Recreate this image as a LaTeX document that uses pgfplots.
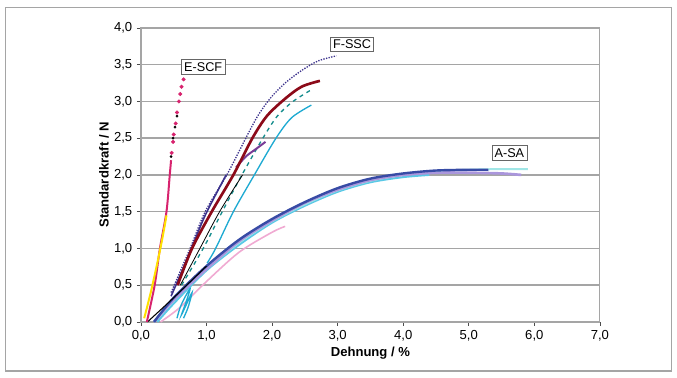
\documentclass[border=0pt]{standalone}
\usepackage{pgfplots}
\pgfplotsset{compat=1.18}
\usepackage{fontspec}
\setmainfont{Liberation Sans}
\definecolor{escf}{RGB}{215,35,110}
\definecolor{yel}{RGB}{255,225,0}
\definecolor{dblue}{RGB}{60,50,140}
\definecolor{dred}{RGB}{140,10,25}
\definecolor{teal2}{RGB}{20,140,140}
\definecolor{cyan2}{RGB}{30,170,210}
\definecolor{purp}{RGB}{120,60,150}
\definecolor{asab}{RGB}{55,75,165}
\definecolor{lcyan}{RGB}{160,230,230}
\definecolor{lav}{RGB}{170,150,220}
\definecolor{lblue}{RGB}{90,200,230}
\definecolor{lpink}{RGB}{240,170,210}
\definecolor{gridg}{RGB}{165,165,165}
\begin{document}
\begin{tikzpicture}
\begin{axis}[
  scale only axis, width=344.25pt, height=220.5pt,
  xmin=0, xmax=7, ymin=0, ymax=4,
  xtick={0,1,...,7}, ytick={0,0.5,...,4},
  /pgf/number format/.cd, fixed, fixed zerofill, precision=1, use comma, assume math mode=true,
  /pgfplots/.cd,
  ymajorgrids, grid style={gridg, line width=1.1pt},
  axis line style={gridg, line width=0.9pt},
  tick style={black!70, line width=0.5pt}, tick align=outside, major tick length=3pt,
  xtick pos=bottom, ytick pos=left,
  ticklabel style={font=\fontsize{9.8}{11}\selectfont},
  xlabel={\textbf{Dehnung / \%}}, ylabel={\textbf{Standardkraft / N}},
  xlabel style={font=\fontsize{9.8}{11}\selectfont, yshift=3pt},
  ylabel style={font=\fontsize{9.8}{11}\selectfont, yshift=-3pt},
  every axis plot/.append style={smooth, tension=0.5},
  clip=false,
]
% outer frame and bounding
\path (rel axis cs:-0.307,-0.190) rectangle (rel axis cs:1.168,1.095);
\draw[gridg, line width=0.8pt] (rel axis cs:-0.296,-0.167) rectangle (rel axis cs:1.157,1.068);
% A-SA group
\addplot[lpink, line width=1.2pt] coordinates {(0.3,0) (0.6,0.2) (1.0,0.55) (1.5,0.95) (2.0,1.22) (2.2,1.3)};
\addplot[lblue, line width=1.5pt] coordinates {(0.25,0) (0.5,0.25) (1.0,0.7) (1.5,1.05) (2.0,1.35) (2.5,1.58) (3.0,1.77) (3.5,1.9) (4.0,1.97) (4.4,2.0)};
\addplot[lcyan, line width=1.5pt] coordinates {(0.2,0) (0.5,0.3) (1.0,0.72) (1.5,1.08) (2.0,1.37) (2.5,1.6) (3.0,1.79) (3.5,1.92) (4.0,2.0) (4.5,2.05) (5.0,2.07) (5.5,2.08) (5.9,2.08)};
\addplot[lav, line width=2pt] coordinates {(0.2,0) (0.5,0.3) (1.0,0.72) (1.5,1.1) (2.0,1.38) (2.5,1.62) (3.0,1.8) (3.5,1.93) (4.0,2.0) (4.5,2.03) (5.0,2.03) (5.5,2.02) (5.8,2.0)};
\addplot[asab, line width=1.8pt] coordinates {(0.2,0) (0.5,0.33) (1.0,0.76) (1.5,1.12) (2.0,1.4) (2.5,1.63) (3.0,1.82) (3.5,1.95) (4.0,2.02) (4.5,2.06) (5.0,2.07) (5.3,2.07)};
\addplot[black, line width=0.8pt] coordinates {(0.1,0) (0.5,0.33) (1.0,0.76)};
% blue scribble
\addplot[cyan2, line width=1pt] coordinates {(0.55,0.05) (0.6,0.2) (0.68,0.35) (0.75,0.45) (0.7,0.3) (0.62,0.1) (0.7,0.25) (0.78,0.4) (0.72,0.2) (0.65,0.05)};
% F-SSC group
\addplot[cyan2, line width=1pt] coordinates {(1.01,0.8) (1.14,1.0) (1.41,1.5) (1.73,2.0) (2.06,2.5) (2.3,2.78) (2.6,2.95)};
\addplot[teal2, line width=1pt, dashed] coordinates {(0.62,0.5) (0.95,1.0) (1.24,1.5) (1.54,2.0) (1.86,2.5) (2.08,2.8) (2.32,3.0) (2.62,3.17)};
\addplot[purp, line width=1.5pt] coordinates {(1.45,2.1) (1.6,2.25) (1.75,2.35) (1.9,2.45)};
\addplot[dblue, line width=1pt, densely dotted] coordinates {(0.46,0.4) (0.75,1.0) (0.98,1.5) (1.31,2.0) (1.6,2.5) (1.78,2.8) (1.98,3.05) (2.2,3.25) (2.45,3.42) (2.7,3.55) (2.98,3.62)};
\addplot[dblue, line width=1.2pt] coordinates {(0.46,0.35) (0.75,0.95) (0.98,1.45) (1.3,2.0)};
\addplot[dred, line width=2pt] coordinates {(0.56,0.5) (0.78,1.0) (1.08,1.5) (1.41,2.0) (1.7,2.5) (1.92,2.8) (2.19,3.03) (2.45,3.2) (2.73,3.28)};
\addplot[black, line width=0.6pt] coordinates {(0.6,0.5) (0.9,1.0) (1.2,1.5) (1.55,2.0)};
% E-SCF
\addplot[escf, line width=1.5pt] coordinates {(0.09,0) (0.21,0.5) (0.29,1.0) (0.39,1.5) (0.44,2.0) (0.46,2.2)};
\addplot[escf, only marks, mark=*, mark size=1.3pt] coordinates {(0.47,2.3) (0.49,2.45) (0.5,2.55) (0.53,2.7) (0.55,2.85) (0.58,3.0) (0.6,3.1) (0.62,3.2) (0.65,3.3)};
\addplot[black, only marks, mark=*, mark size=0.8pt] coordinates {(0.46,2.25) (0.49,2.5) (0.52,2.65) (0.55,2.8)};
\addplot[yel, line width=1.5pt] coordinates {(0.05,0.05) (0.15,0.4) (0.25,0.8) (0.33,1.15) (0.39,1.45)};
% labels
\node[draw=black!60, fill=white, inner sep=2pt, font=\fontsize{9.5}{11}\selectfont] at (axis cs:0.95,3.47) {E-SCF};
\node[draw=black!60, fill=white, inner sep=2pt, font=\fontsize{9.5}{11}\selectfont] at (axis cs:3.22,3.78) {F-SSC};
\node[draw=black!60, fill=white, inner sep=2pt, font=\fontsize{9.5}{11}\selectfont] at (axis cs:5.62,2.3) {A-SA};
\end{axis}
\end{tikzpicture}
\end{document}
